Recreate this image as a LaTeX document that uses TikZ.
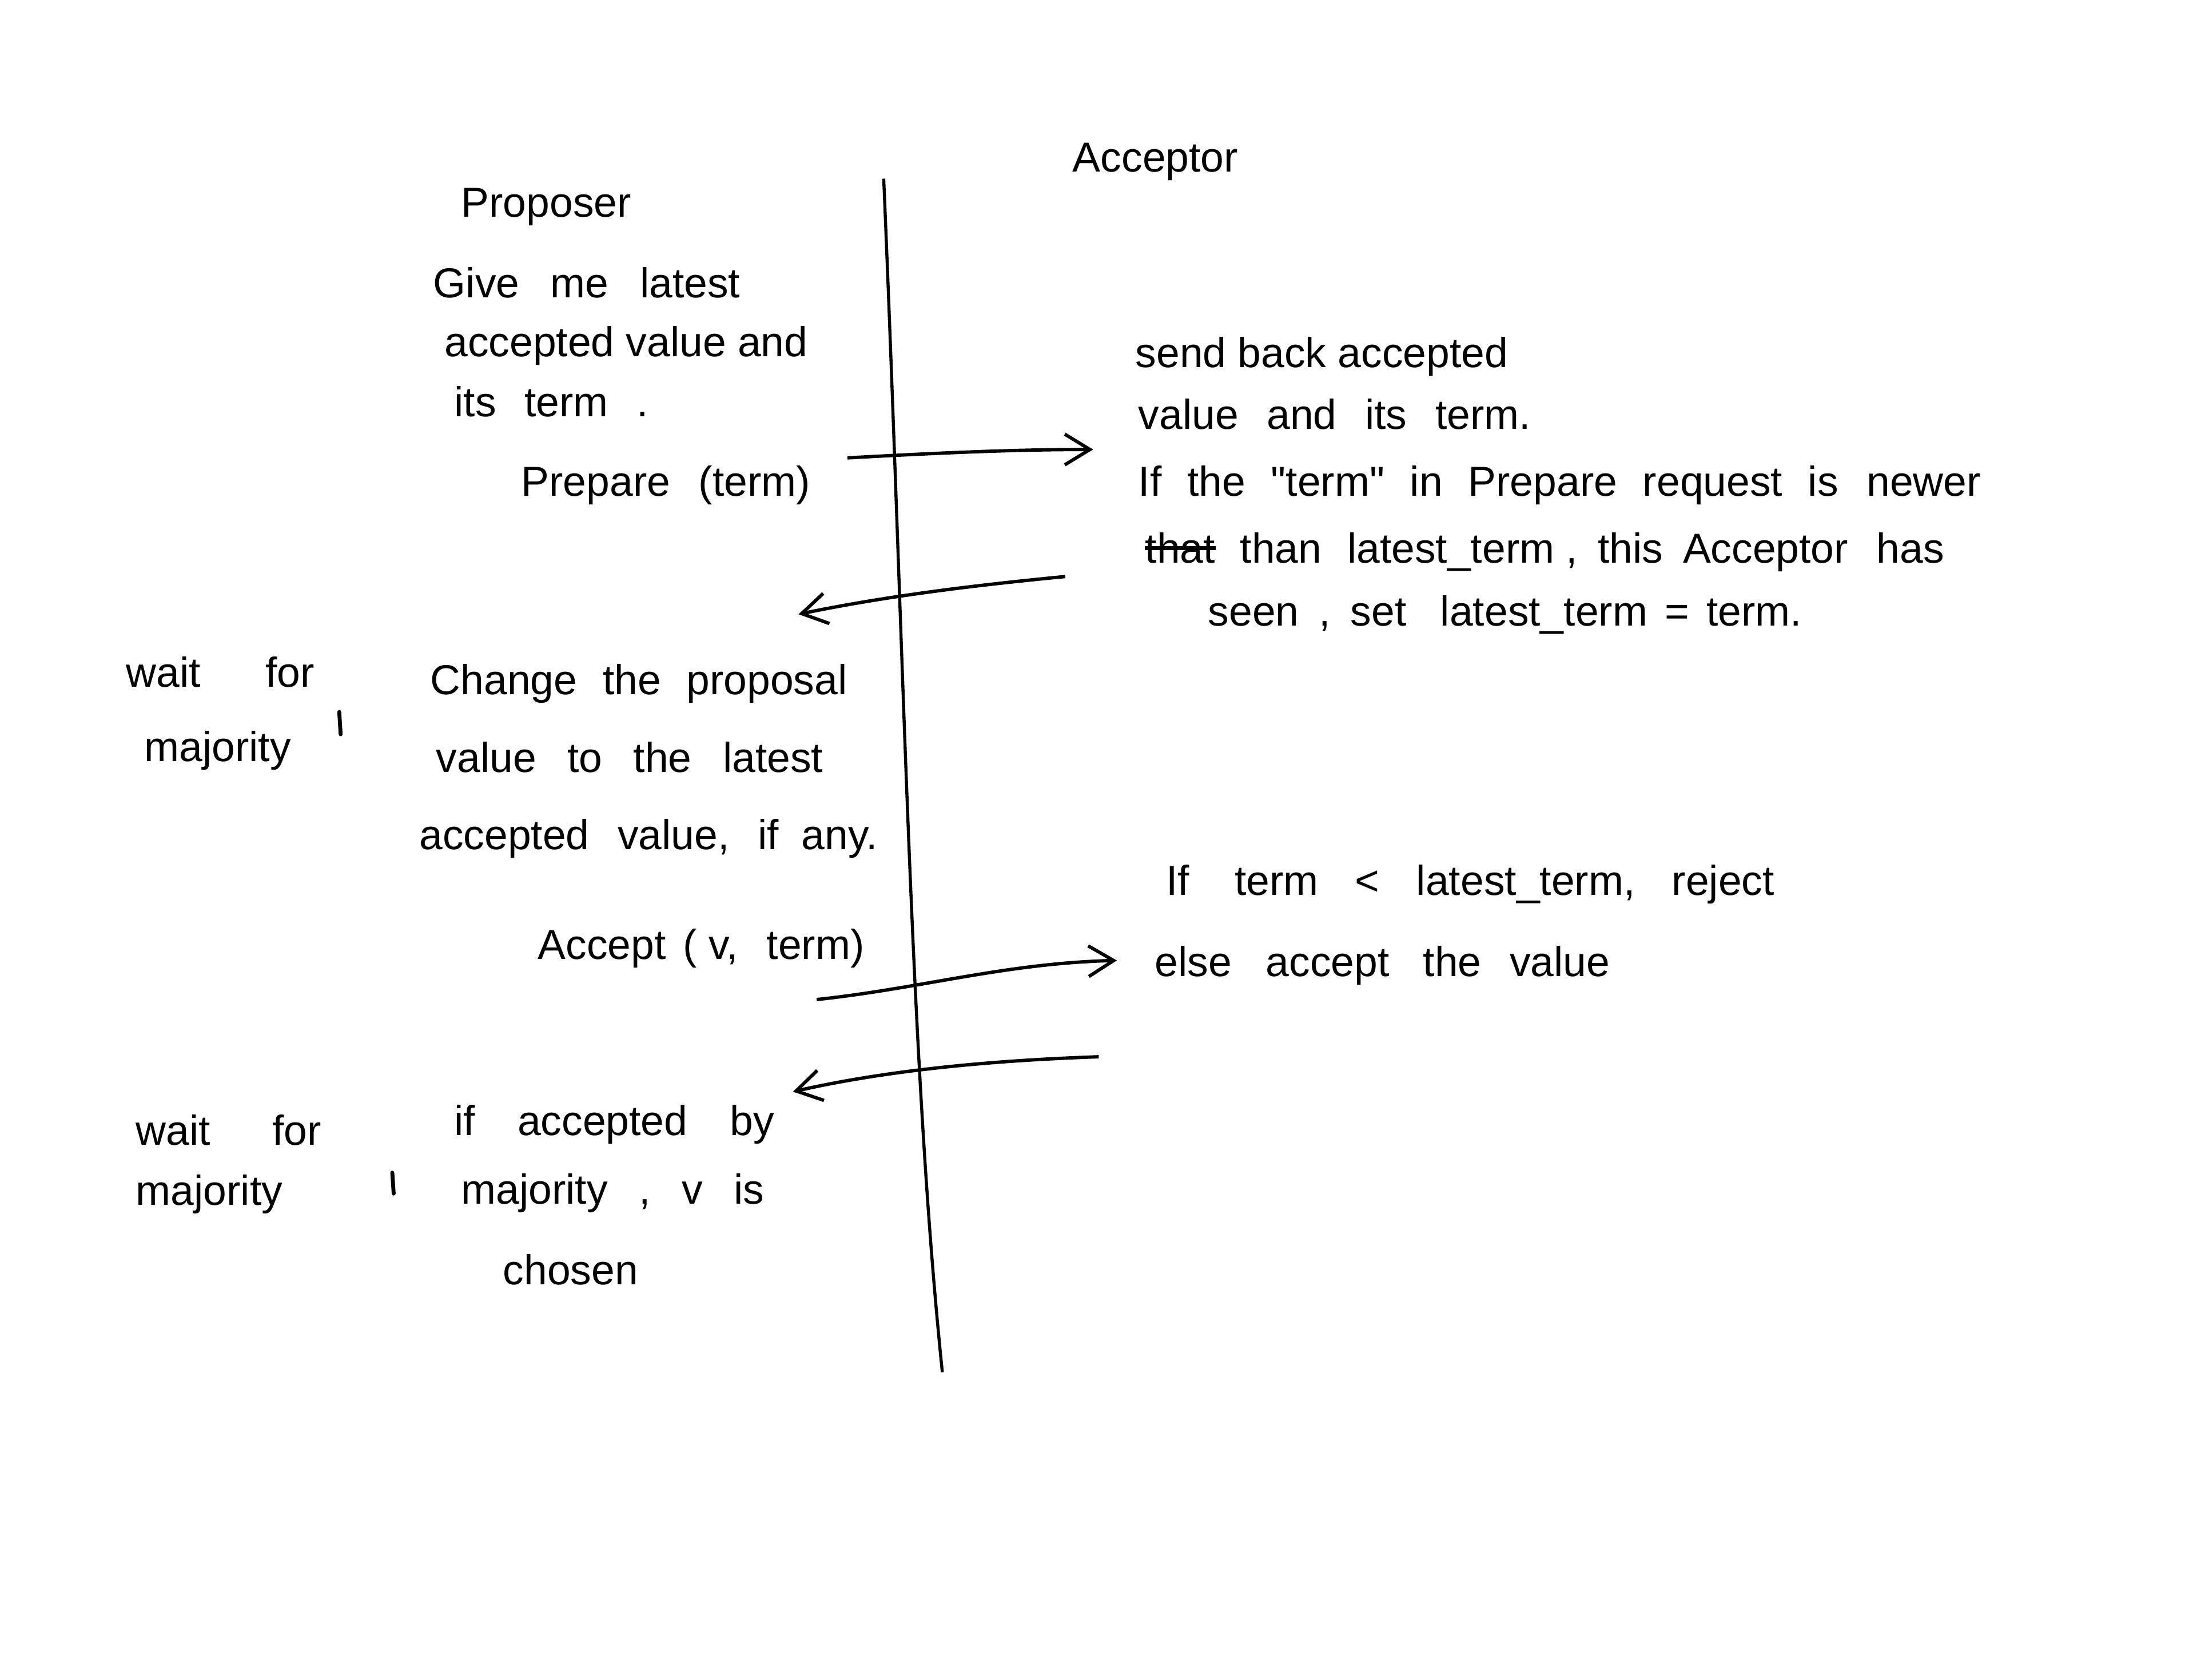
\documentclass[tikz,border=0pt]{standalone}
\usepackage{fontspec}
\setmainfont{Liberation Sans}
\newfontfamily\plainq{Liberation Sans}
\usetikzlibrary{arrows.meta}
\newcommand{\gp}[1]{\hspace{#1pt}}
\begin{document}
\begin{tikzpicture}[x=0.5pt,y=-0.5pt,
  hand/.style={anchor=mid west,inner sep=0pt,font=\fontsize{15}{18}\selectfont},
  msg/.style={line width=1.2pt,-{Straight Barb[length=9pt,width=11pt,line width=1.2pt]}},
  life/.style={line width=1.1pt},
  tick/.style={line width=1.4pt,line cap=round}]
\useasboundingbox[fill=white] (0,0) rectangle (1568,1203.4);
% headers
\node[hand] (prop) at (330,150) {Proposer};
\node[hand] (acc) at (768,118) {Acceptor};
% lifeline
\coordinate (ltop) at (633,128);
\coordinate (lbot) at (675,983);
\draw[life] (ltop) .. controls (648,480) and (652,760) .. (lbot);
% proposer text block 1
\node[hand] (g1) at (310,208) {Give \gp{7}me \gp{7}latest};
\node[hand] (g2) at (318,250) {accepted value and};
\node[hand] (g3) at (325,293) {its \gp{6}term \gp{6}.};
\node[hand] (prep) at (373,350) {Prepare \gp{6}(term)};
% acceptor text block 1
\node[hand] (s1) at (813,258) {send back accepted};
\node[hand] (s2) at (815,302) {value \gp{6}and \gp{6}its \gp{6}term.};
\node[hand] (s3) at (815,350) {If \gp{5}the \gp{5}{\plainq"}term{\plainq"} \gp{5}in \gp{5}Prepare \gp{5}request \gp{5}is \gp{6}newer};
\node[hand] (x0) at (820,398) {that};
\draw[line width=1.4pt] (x0.west) -- (x0.east);
\node[hand] (s4) at (888,398) {than \gp{5}latest\_term , \gp{3}this \gp{3}Acceptor \gp{6}has};
\node[hand] (s5) at (865,443) {seen \gp{3}, \gp{3}set \gp{8}latest\_term \gp{2}= \gp{2}term.};
% wait 1
\node[hand] (w1) at (90,487) {wait \gp{19}for};
\node[hand] (w2) at (103,540) {majority};
\coordinate (t1a) at (243,510);
\coordinate (t1b) at (244,526);
\draw[tick] (t1a) -- (t1b);
\node[hand] (c1) at (308,492) {Change \gp{5}the \gp{5}proposal};
\node[hand] (c2) at (312,548) {value \gp{7}to \gp{7}the \gp{7}latest};
\node[hand] (c3) at (300,603) {accepted \gp{6}value, \gp{6}if \gp{4}any.};
\node[hand] (accm) at (385,682) {Accept \gp{2}( v, \gp{6}term)};
% acceptor text block 2
\node[hand] (r1) at (835,636) {If \gp{12}term \gp{9}< \gp{9}latest\_term, \gp{9}reject};
\node[hand] (r2) at (827,694) {else \gp{8}accept \gp{8}the \gp{6}value};
% wait 2
\node[hand] (w3) at (97,815) {wait \gp{18}for};
\node[hand] (w4) at (97,858) {majority};
\coordinate (t2a) at (281,840);
\coordinate (t2b) at (282,855);
\draw[tick] (t2a) -- (t2b);
\node[hand] (f1) at (325,808) {if \gp{11}accepted \gp{11}by};
\node[hand] (f2) at (330,857) {majority \gp{7}, \gp{7}v \gp{7}is};
\node[hand] (f3) at (360,915) {chosen};
% messages
\coordinate (a1s) at (607,328);
\coordinate (a1e) at (783,322);
\draw[msg] (a1s) .. controls (680,324) and (730,322) .. (a1e);
\coordinate (a2s) at (763,413);
\coordinate (a2e) at (572,440);
\draw[msg] (a2s) .. controls (690,420) and (630,428) .. (a2e);
\coordinate (a3s) at (585,716);
\coordinate (a3e) at (800,688);
\draw[msg] (a3s) .. controls (660,708) and (720,690) .. (a3e);
\coordinate (a4s) at (787,757);
\coordinate (a4e) at (568,782);
\draw[msg] (a4s) .. controls (700,760) and (630,768) .. (a4e);
\end{tikzpicture}
\end{document}
